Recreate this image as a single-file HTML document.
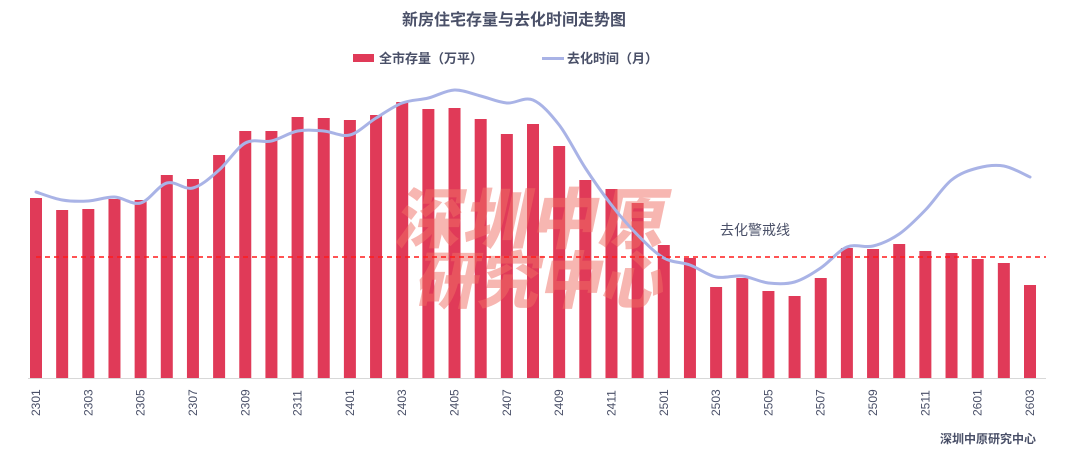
<!DOCTYPE html>
<html><head><meta charset="utf-8"><style>
body{margin:0;background:#fff;}
svg{display:block;font-family:"Liberation Sans","Noto Sans CJK SC",sans-serif;}
</style></head><body>
<svg id="c" width="1080" height="455" viewBox="0 0 1080 455" xmlns="http://www.w3.org/2000/svg">
<text x="514" y="25" text-anchor="middle" font-size="16" font-weight="bold" fill="#4a5068">新房住宅存量与去化时间走势图</text>
<rect x="353" y="54" width="21" height="8" fill="#e03a58"/>
<text x="379" y="63" font-size="13" font-weight="bold" fill="#4a5068">全市存量（万平）</text>
<rect x="542" y="57" width="22" height="3" fill="#a9b3e6"/>
<text x="567" y="63" font-size="13" font-weight="bold" fill="#4a5068">去化时间（月）</text>
<g id="bars" fill="#e03a58"></g>
<g transform="skewX(-12)" font-weight="900" fill="rgba(240,110,100,0.5)" font-size="66">
<text x="445" y="243" letter-spacing="2">深圳中原</text>
<text x="478" y="303" font-size="62">研究中心</text>
</g>
<path id="ln" fill="none" stroke="#a9b3e6" stroke-width="3" stroke-linejoin="round" stroke-linecap="round"/>
<line x1="36" y1="257" x2="1046" y2="257" stroke="#ff1a1a" stroke-width="1.5" stroke-dasharray="5,4"/>
<text x="720" y="235" font-size="14" fill="#4a5068">去化警戒线</text>
<line x1="28" y1="378.5" x2="1046" y2="378.5" stroke="#d8d8d8" stroke-width="1"/>
<g id="lab" font-size="12" fill="#4a5068"></g>
<text x="1036" y="443" text-anchor="end" font-size="12" font-weight="bold" fill="#4a5068">深圳中原研究中心</text>
</svg>
<script>
var bars=[198,210,209,199,200,175,179,155,131,131,117,118,120,115,102,109,108,119,134,124,146,180,189,203,245,258,287,278,291,296,278,248,249,244,251,253,259,263,285];
var line=[192,200,201,197,203,183,188,170,143,141,131,131,135,118,103,98,90,96,103,100,125,168,205,235,258,265,277,276,283,282,268,247,246,234,210,180,168,166,177];
var ns="http://www.w3.org/2000/svg",g=document.getElementById("bars"),lb=document.getElementById("lab"),P=[];
for(var i=0;i<39;i++){var x=36+i*26.158;
var r=document.createElementNS(ns,"rect");r.setAttribute("x",x-6);r.setAttribute("y",bars[i]);r.setAttribute("width",12);r.setAttribute("height",378-bars[i]);g.appendChild(r);
P.push([x,line[i]]);
if(i%2==0){var yy=23+Math.floor(i/12),mm=i%12+1;var s=""+yy+(mm<10?"0":"")+mm;
var t=document.createElementNS(ns,"text");t.setAttribute("transform","translate("+(x+4)+",416) rotate(-90)");t.textContent=s;lb.appendChild(t);}}
var d="M"+P[0][0]+","+P[0][1];
for(var i=0;i<P.length-1;i++){var p0=P[Math.max(0,i-1)],p1=P[i],p2=P[i+1],p3=P[Math.min(P.length-1,i+2)];
var c1x=p1[0]+(p2[0]-p0[0])/6,c1y=p1[1]+(p2[1]-p0[1])/6,c2x=p2[0]-(p3[0]-p1[0])/6,c2y=p2[1]-(p3[1]-p1[1])/6;
d+=" C"+c1x.toFixed(1)+","+c1y.toFixed(1)+" "+c2x.toFixed(1)+","+c2y.toFixed(1)+" "+p2[0].toFixed(1)+","+p2[1];}
document.getElementById("ln").setAttribute("d",d);
</script>
</body></html>
